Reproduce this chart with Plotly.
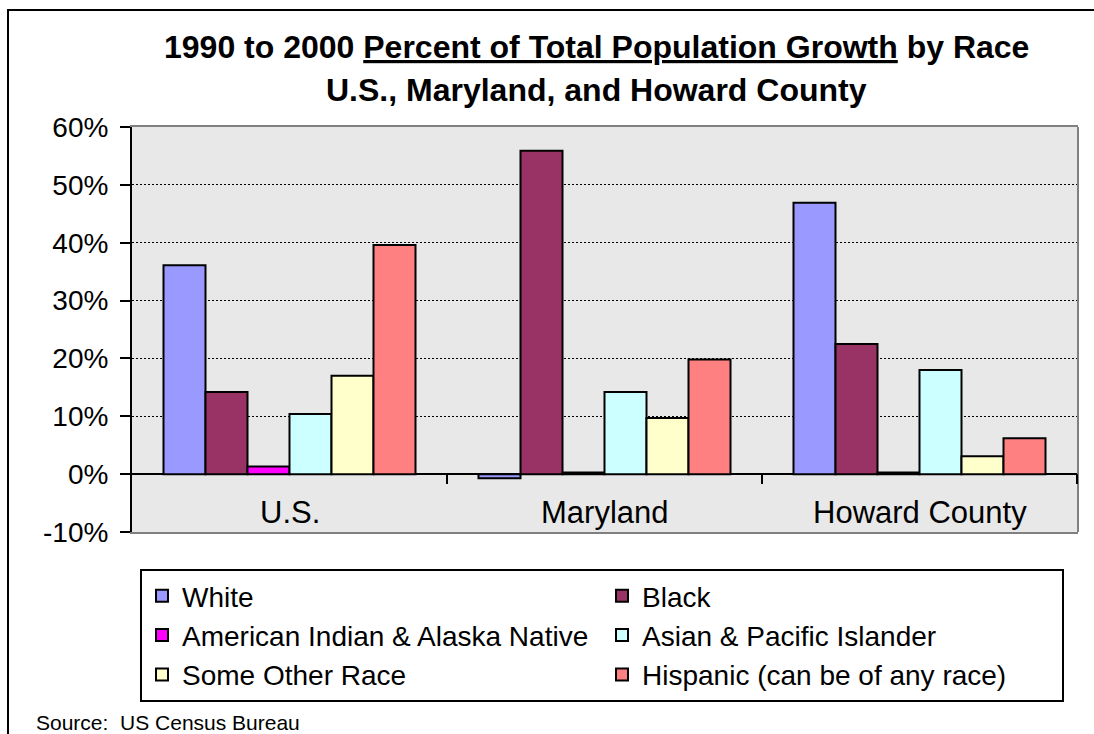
import plotly.graph_objects as go

# ---- data ----
regions = ["U.S.", "Maryland", "Howard County"]
series_names = ["White", "Black", "American Indian & Alaska Native",
                "Asian & Pacific Islander", "Some Other Race",
                "Hispanic (can be of any race)"]
white = [36.1, -0.7, 46.9]
black = [14.2, 55.9, 22.5]
am_indian = [1.3, 0.3, 0.3]
asian = [10.4, 14.2, 18.0]
other = [17.0, 9.7, 3.1]
hispanic = [39.6, 19.8, 6.2]
series_values = [white, black, am_indian, asian, other, hispanic]
colors = ["#9999FF", "#993366", "#FF00FF", "#CCFFFF", "#FFFFCC", "#FF8080"]
y_ticks = [-10, 0, 10, 20, 30, 40, 50, 60]
y_tick_labels = [f"{v}%" for v in y_ticks]
category_boundaries = [0.5, 1.5, 2.5]

FONT = "Arial, Liberation Sans, sans-serif"

fig = go.Figure()
for name, vals, col in zip(series_names, series_values, colors):
    fig.add_trace(go.Bar(
        x=regions, y=vals, name=name,
        marker=dict(color=col, line=dict(color="black", width=2)),
    ))

W, H = 1094, 734
ml, mr, mt, mb = 132, 16, 127, 202
pw, ph = W - ml - mr, H - mt - mb

def px(x):
    return (x - ml) / pw

def py(y):
    return (H - mb - y) / ph

fig.update_layout(
    width=W, height=H,
    margin=dict(l=ml, r=mr, t=mt, b=mb, pad=0),
    paper_bgcolor="white",
    plot_bgcolor="#E8E8E8",
    barmode="group", bargap=0.2, bargroupgap=0,
    font=dict(family=FONT, color="black"),
    showlegend=True,
    legend=dict(
        orientation="h", x=px(140), y=py(569), xanchor="left", yanchor="top",
        bgcolor="white", bordercolor="black", borderwidth=2,
        font=dict(size=28, family=FONT, color="black"),
        entrywidth=415, traceorder="normal",
    ),
)

fig.update_yaxes(
    range=[-10, 60], tickmode="array", tickvals=y_ticks, ticktext=y_tick_labels,
    tickfont=dict(size=28, family=FONT, color="black"),
    ticks="outside", ticklen=10, tickwidth=2, tickcolor="black",
    showline=True, linecolor="black", linewidth=2, mirror=False,
    showgrid=True, gridcolor="black", gridwidth=1, griddash="2px,2px",
    zeroline=True, zerolinecolor="black", zerolinewidth=2,
    ticklabelstandoff=6,
)
fig.update_xaxes(
    showticklabels=False, ticks="",
    showline=True, linecolor="#808080", linewidth=2, mirror=True,
    showgrid=False, zeroline=False,
)

shapes = []
# right border of plot area
shapes.append(dict(type="line", xref="paper", yref="paper", x0=1, x1=1, y0=0, y1=1,
                   line=dict(color="#808080", width=2)))
# category boundary tick marks on the zero line
for b in category_boundaries:
    shapes.append(dict(type="line", xref="x", yref="y", x0=b, x1=b, y0=0, y1=-1.7,
                       line=dict(color="black", width=2)))
# outer chart frame
shapes.append(dict(type="rect", xref="paper", yref="paper",
                   x0=px(8), x1=px(1110), y0=py(10), y1=py(760),
                   line=dict(color="black", width=2), fillcolor="rgba(0,0,0,0)"))
fig.update_layout(shapes=shapes)

annotations = []
for r in regions:
    annotations.append(dict(x=r, y=-6.6, xref="x", yref="y", text=r, showarrow=False,
                            xanchor="center", yanchor="middle",
                            font=dict(size=31, family=FONT, color="black")))
annotations.append(dict(x=px(596.5), y=py(47), xref="paper", yref="paper",
                        text="<b>1990 to 2000 <u>Percent of Total Population Growth</u> by Race</b>",
                        showarrow=False, xanchor="center", yanchor="middle",
                        font=dict(size=32, family=FONT, color="black")))
annotations.append(dict(x=px(596.5), y=py(90), xref="paper", yref="paper",
                        text="<b>U.S., Maryland, and Howard County</b>",
                        showarrow=False, xanchor="center", yanchor="middle",
                        font=dict(size=32, family=FONT, color="black")))
annotations.append(dict(x=px(34), y=py(722), xref="paper", yref="paper",
                        text="Source:  US Census Bureau", showarrow=False,
                        xanchor="left", yanchor="middle",
                        font=dict(size=21, family=FONT, color="black")))
fig.update_layout(annotations=annotations)

fig.write_html("out.html", config={"displayModeBar": False})

# remove the default page margin so the figure sits at the window's top-left corner
with open("out.html", "r", encoding="utf-8") as f:
    html = f.read()
html = html.replace("<head>", "<head><style>html,body{margin:0;padding:0;overflow:hidden;}</style>", 1)
with open("out.html", "w", encoding="utf-8") as f:
    f.write(html)
